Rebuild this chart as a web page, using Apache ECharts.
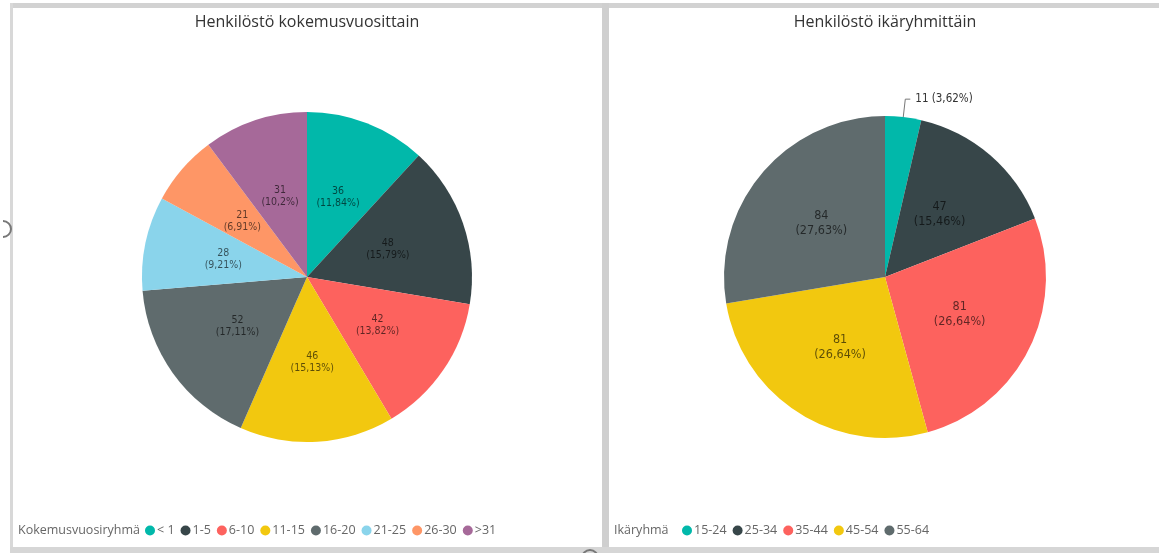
<!DOCTYPE html>
<html>
<head>
<meta charset="utf-8">
<script src="https://cdn.jsdelivr.net/npm/echarts@6/dist/echarts.min.js"></script>
<style>
  html, body { margin: 0; padding: 0; background: #fff; }
  #main { width: 1159px; height: 553px; }
</style>
</head>
<body>
<div id="main"></div>
<script>
// kokemusvuodet
var expGroups = ['< 1', '1-5', '6-10', '11-15', '16-20', '21-25', '26-30', '>31'];
var expCounts = [36, 48, 42, 46, 52, 28, 21, 31];
// ikäryhmät
var ageGroups = ['15-24', '25-34', '35-44', '45-54', '55-64'];
var ageCounts = [11, 47, 81, 81, 84];

var palette = ['#01B8AA', '#374649', '#FD625E', '#F2C80F', '#5F6B6D', '#8AD4EB', '#FE9666', '#A66999'];

function sum(arr) {
    var s = 0;
    arr.forEach(function (v) { s += v; });
    return s;
}

function toData(names, values) {
    var out = [];
    names.forEach(function (n, i) {
        out.push({ name: n, value: values[i] });
    });
    return out;
}

// prosentti suomalaisittain, pilkku desimaalierottimena
function pct(value, total) {
    var p = Math.round(value / total * 10000) / 100;
    return String(p).replace('.', ',') + '%';
}

var expTotal = sum(expCounts);
var ageTotal = sum(ageCounts);

var chart = echarts.init(document.getElementById('main'));
var labelFont = '"DejaVu Sans Condensed", "DejaVu Sans", sans-serif';
var uiFont = '"Open Sans", sans-serif';

var ageData = toData(ageGroups, ageCounts);
// pieni sektori: selite ulkopuolelle
ageData[0].label = {
    position: 'outside',
    fontSize: 11.5,
    color: '#333',
    formatter: function (p) { return p.value + ' (' + pct(p.value, ageTotal) + ')'; }
};
ageData[0].labelLine = { show: true, length: 18, length2: 5, lineStyle: { color: '#777', width: 1 } };

var option = {
    backgroundColor: '#fff',
    color: palette,
    animation: false,
    title: [
        { text: 'Henkilöstö kokemusvuosittain', left: 307, top: 14, textAlign: 'center', padding: 0,
          textStyle: { fontFamily: uiFont, fontSize: 16, fontWeight: 'normal', color: '#333' } },
        { text: 'Henkilöstö ikäryhmittäin', left: 885, top: 14, textAlign: 'center', padding: 0,
          textStyle: { fontFamily: uiFont, fontSize: 16, fontWeight: 'normal', color: '#333' } },
        { text: 'Kokemusvuosiryhmä', left: 18, top: 524, padding: 0,
          textStyle: { fontFamily: uiFont, fontSize: 12.5, fontWeight: 'normal', color: '#666' } },
        { text: 'Ikäryhmä', left: 614, top: 524, padding: 0,
          textStyle: { fontFamily: uiFont, fontSize: 12.5, fontWeight: 'normal', color: '#666' } }
    ],
    legend: [
        {
            data: expGroups, left: 145, top: 524, padding: 0, icon: 'circle',
            itemWidth: 10, itemHeight: 10, itemGap: 6,
            textStyle: { fontFamily: uiFont, fontSize: 12.5, color: '#666', padding: [0, 0, 0, -3] }
        },
        {
            data: ageGroups, left: 682, top: 524, padding: 0, icon: 'circle',
            itemWidth: 10, itemHeight: 10, itemGap: 6,
            textStyle: { fontFamily: uiFont, fontSize: 12.5, color: '#666', padding: [0, 0, 0, -3] }
        }
    ],
    graphic: [
        { type: 'rect', shape: { x: 10, y: 3, width: 1149, height: 5 }, style: { fill: '#d2d2d2' }, silent: true },
        { type: 'rect', shape: { x: 10, y: 3, width: 3, height: 547 }, style: { fill: '#d8d8d8' }, silent: true },
        { type: 'rect', shape: { x: 602, y: 3, width: 7, height: 547 }, style: { fill: '#cfcfcf' }, silent: true },
        { type: 'rect', shape: { x: 10, y: 547, width: 1149, height: 6 }, style: { fill: '#d6d6d6' }, silent: true },
        { type: 'arc', shape: { cx: 3, cy: 229, r: 8, startAngle: -Math.PI / 2, endAngle: Math.PI / 2 }, style: { stroke: '#777', lineWidth: 2, fill: null }, silent: true },
        { type: 'arc', shape: { cx: 590, cy: 558, r: 8, startAngle: Math.PI, endAngle: 2 * Math.PI }, style: { stroke: '#777', lineWidth: 2, fill: null }, silent: true }
    ],
    series: [
        {
            name: 'Kokemusvuosiryhmä',
            type: 'pie',
            center: [307, 277],
            radius: [0, 165],
            startAngle: 90,
            clockwise: true,
            avoidLabelOverlap: false,
            itemStyle: { borderWidth: 0 },
            label: {
                position: 'inside',
                fontFamily: labelFont,
                fontSize: 10.5,
                lineHeight: 12,
                color: 'rgba(0,0,0,0.62)',
                formatter: function (p) { return p.value + '\n(' + pct(p.value, expTotal) + ')'; }
            },
            labelLine: { show: false },
            data: toData(expGroups, expCounts)
        },
        {
            name: 'Ikäryhmä',
            type: 'pie',
            center: [885, 277],
            radius: [0, 161],
            startAngle: 90,
            clockwise: true,
            avoidLabelOverlap: false,
            itemStyle: { borderWidth: 0 },
            label: {
                position: 'inside',
                fontFamily: labelFont,
                fontSize: 12.5,
                lineHeight: 15,
                color: 'rgba(0,0,0,0.62)',
                formatter: function (p) { return p.value + '\n(' + pct(p.value, ageTotal) + ')'; }
            },
            labelLine: { show: false },
            data: ageData
        }
    ]
};

chart.setOption(option);
</script>
</body>
</html>
